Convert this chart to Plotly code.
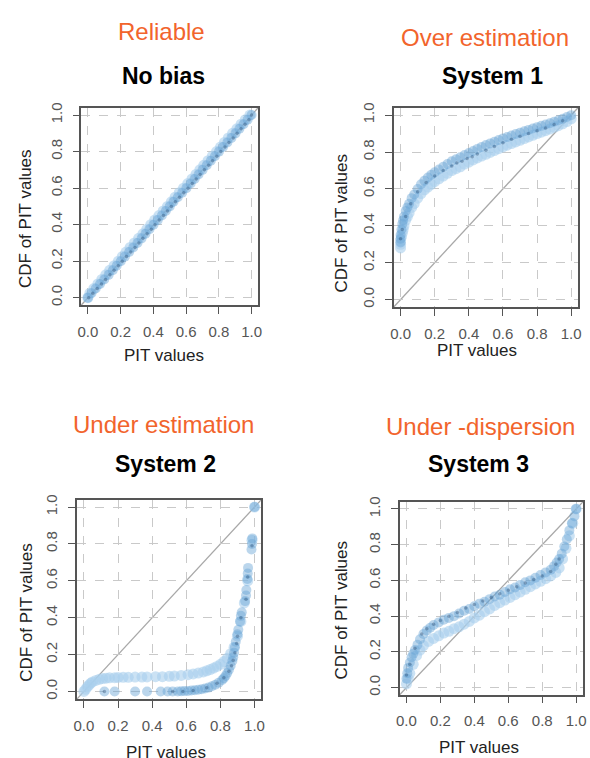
import plotly.graph_objects as go

W, H = 590, 758

# ---------------- data ----------------
TICKS = [0.0, 0.2, 0.4, 0.6, 0.8, 1.0]
TICK_TEXT = ["0.0", "0.2", "0.4", "0.6", "0.8", "1.0"]

CATEGORIES = ["Reliable", "Over estimation", "Under estimation", "Under -dispersion"]
SYSTEMS = ["No bias", "System 1", "System 2", "System 3"]
X_LABEL = "PIT values"
Y_LABEL = "CDF of PIT values"

# Panel 1 : No bias
NB_CDF = [0.0, 0.025, 0.05, 0.075, 0.1, 0.125, 0.15, 0.175, 0.2, 0.225, 0.25, 0.275, 0.3, 0.325,
          0.35, 0.375, 0.4, 0.425, 0.45, 0.475, 0.5, 0.525, 0.55, 0.575, 0.6, 0.625, 0.65, 0.675,
          0.7, 0.725, 0.75, 0.775, 0.8, 0.825, 0.85, 0.875, 0.9, 0.925, 0.95, 0.975, 1.0]
NB_PIT_LIGHT = [0.0, 0.012, 0.036, 0.061, 0.085, 0.109, 0.133, 0.16, 0.186, 0.21, 0.233, 0.258, 0.284,
                0.31, 0.336, 0.36, 0.384, 0.408, 0.434, 0.46, 0.486, 0.51, 0.533, 0.558, 0.584, 0.61,
                0.636, 0.66, 0.684, 0.708, 0.734, 0.76, 0.786, 0.81, 0.834, 0.858, 0.884, 0.91, 0.936,
                0.962, 0.99]
NB_PIT_MID = [0.0, 0.022, 0.048, 0.074, 0.1, 0.127, 0.152, 0.176, 0.201, 0.226, 0.252, 0.277, 0.303,
              0.328, 0.352, 0.376, 0.401, 0.427, 0.452, 0.476, 0.5, 0.523, 0.549, 0.576, 0.602, 0.628,
              0.652, 0.676, 0.701, 0.726, 0.751, 0.776, 0.801, 0.826, 0.852, 0.877, 0.902, 0.926,
              0.951, 0.976, 1.0]
NB_PIT_DARK = [0.005, 0.03, 0.057, 0.083, 0.108, 0.135, 0.16, 0.186, 0.21, 0.236, 0.262, 0.288, 0.312,
               0.336, 0.362, 0.388, 0.41, 0.436, 0.462, 0.486, 0.51, 0.535, 0.56, 0.586, 0.612, 0.638,
               0.662, 0.686, 0.712, 0.738, 0.762, 0.788, 0.812, 0.838, 0.862, 0.888, 0.912, 0.936,
               0.96, 0.984, 1.0]

# Panel 2 : System 1 (over estimation)
S1_PIT_LIGHT = [0.0, 0.0, 0.0, 0.005, 0.01, 0.015, 0.02, 0.03, 0.04, 0.05, 0.065, 0.08, 0.1, 0.12,
                0.14, 0.16, 0.18, 0.2, 0.225, 0.25, 0.275, 0.3, 0.325, 0.35, 0.375, 0.4, 0.425, 0.45,
                0.475, 0.5, 0.525, 0.55, 0.575, 0.6, 0.625, 0.65, 0.675, 0.7, 0.725, 0.75, 0.775, 0.8,
                0.825, 0.85, 0.875, 0.9, 0.925, 0.95, 0.975, 1.0]
S1_CDF_LIGHT = [0.28, 0.3, 0.32, 0.34, 0.36, 0.38, 0.4, 0.43, 0.45, 0.47, 0.5, 0.52, 0.55, 0.575,
                0.595, 0.61, 0.625, 0.64, 0.655, 0.67, 0.685, 0.7, 0.71, 0.72, 0.735, 0.745, 0.757,
                0.768, 0.778, 0.788, 0.798, 0.808, 0.818, 0.828, 0.837, 0.846, 0.855, 0.864, 0.873,
                0.882, 0.891, 0.9, 0.908, 0.916, 0.925, 0.934, 0.943, 0.953, 0.965, 0.98]
S1_PIT_MID = [0.0, 0.0, 0.0, 0.005, 0.01, 0.015, 0.02, 0.03, 0.04, 0.05, 0.065, 0.08, 0.1, 0.12,
              0.14, 0.16, 0.18, 0.2, 0.225, 0.25, 0.275, 0.3, 0.325, 0.35, 0.375, 0.4, 0.425, 0.45,
              0.475, 0.5, 0.525, 0.55, 0.575, 0.6, 0.625, 0.65, 0.675, 0.7, 0.725, 0.75, 0.775, 0.8,
              0.825, 0.85, 0.875, 0.9, 0.925, 0.95, 0.975, 1.0]
S1_CDF_MID = [0.31, 0.33, 0.35, 0.38, 0.41, 0.43, 0.45, 0.48, 0.5, 0.52, 0.55, 0.57, 0.6, 0.625,
              0.645, 0.662, 0.677, 0.69, 0.705, 0.72, 0.735, 0.75, 0.761, 0.772, 0.784, 0.795,
              0.806, 0.817, 0.828, 0.838, 0.847, 0.856, 0.865, 0.874, 0.882, 0.89, 0.898, 0.905,
              0.913, 0.92, 0.928, 0.935, 0.942, 0.949, 0.956, 0.964, 0.972, 0.98, 0.99, 1.0]
S1_PIT_DARK = [0.0, 0.01, 0.03, 0.06, 0.1, 0.15, 0.2, 0.25, 0.3, 0.33, 0.36, 0.39, 0.42, 0.45, 0.5,
               0.55, 0.6, 0.65, 0.7, 0.75, 0.8, 0.85, 0.9, 0.95]
S1_CDF_DARK = [0.33, 0.38, 0.45, 0.52, 0.585, 0.635, 0.67, 0.7, 0.725, 0.74, 0.75, 0.765, 0.775,
               0.79, 0.81, 0.83, 0.85, 0.87, 0.885, 0.9, 0.915, 0.93, 0.95, 0.97]

# Panel 3 : System 2 (under estimation)
S2_PIT_LIGHT = [0.0, 0.01, 0.02, 0.03, 0.04, 0.05, 0.07, 0.09, 0.11, 0.13, 0.15, 0.18, 0.2, 0.23,
                0.26, 0.3, 0.34, 0.37, 0.42, 0.46, 0.5, 0.53, 0.57, 0.61, 0.64, 0.67, 0.7, 0.72,
                0.74, 0.76, 0.78, 0.8, 0.82, 0.84, 0.86, 0.88, 0.9, 0.92, 0.94, 0.96, 0.985, 1.0]
S2_CDF_LIGHT = [0.0, 0.012, 0.025, 0.035, 0.045, 0.052, 0.06, 0.066, 0.07, 0.072, 0.074, 0.075, 0.076,
                0.077, 0.077, 0.078, 0.078, 0.079, 0.08, 0.08, 0.082, 0.084, 0.087, 0.091, 0.095,
                0.1, 0.106, 0.112, 0.119, 0.127, 0.136, 0.147, 0.162, 0.18, 0.205, 0.24, 0.3, 0.38,
                0.48, 0.6, 0.82, 1.0]
S2_PIT_MID = [0.12, 0.18, 0.3, 0.37, 0.45, 0.49, 0.52, 0.55, 0.57, 0.59, 0.61, 0.63, 0.65, 0.67,
              0.69, 0.71, 0.73, 0.75, 0.77, 0.79, 0.81, 0.82, 0.83, 0.84, 0.85, 0.86, 0.87, 0.875,
              0.88, 0.885, 0.89, 0.9, 0.905, 0.915, 0.92, 0.925, 0.945, 0.95, 0.952, 0.958, 0.96,
              0.962, 0.982, 0.985, 0.987, 1.0]
S2_CDF_MID = [0.0, 0.0, 0.0, 0.0, 0.0, 0.0, 0.0, 0.0, 0.001, 0.002, 0.003, 0.005, 0.007, 0.009,
              0.012, 0.016, 0.021, 0.028, 0.037, 0.048, 0.062, 0.072, 0.084, 0.1, 0.118, 0.14,
              0.165, 0.185, 0.21, 0.24, 0.27, 0.31, 0.335, 0.38, 0.41, 0.43, 0.49, 0.52, 0.55,
              0.61, 0.64, 0.67, 0.77, 0.8, 0.83, 1.0]
S2_PIT_DARK = [0.12, 0.52, 0.58, 0.64, 0.72, 0.78, 0.82, 0.85, 0.865, 0.875, 0.885, 0.895, 0.9,
               0.92, 0.95, 0.96, 0.985]
S2_CDF_DARK = [0.0, 0.0, 0.0, 0.005, 0.02, 0.045, 0.075, 0.11, 0.14, 0.17, 0.21, 0.26, 0.3, 0.4,
               0.5, 0.62, 0.79]

# Panel 4 : System 3 (under-dispersion)
S3_PIT_LIGHT = [0.0, 0.01, 0.02, 0.04, 0.06, 0.08, 0.1, 0.13, 0.16, 0.19, 0.22, 0.25, 0.28, 0.31,
                0.34, 0.37, 0.4, 0.43, 0.46, 0.49, 0.52, 0.55, 0.58, 0.61, 0.64, 0.67, 0.7, 0.73,
                0.76, 0.79, 0.82, 0.85, 0.88, 0.9, 0.92, 0.94, 0.96, 0.98, 1.0]
S3_CDF_LIGHT = [0.02, 0.05, 0.08, 0.13, 0.18, 0.21, 0.235, 0.258, 0.275, 0.29, 0.305, 0.315, 0.33,
                0.34, 0.355, 0.37, 0.39, 0.405, 0.425, 0.44, 0.46, 0.475, 0.49, 0.505, 0.52, 0.535,
                0.55, 0.565, 0.58, 0.595, 0.61, 0.625, 0.645, 0.67, 0.72, 0.78, 0.85, 0.92, 1.0]
S3_PIT_MID = [0.0, 0.005, 0.01, 0.02, 0.03, 0.04, 0.05, 0.065, 0.08, 0.1, 0.12, 0.14, 0.16, 0.19,
              0.22, 0.25, 0.28, 0.31, 0.34, 0.37, 0.4, 0.43, 0.46, 0.49, 0.52, 0.55, 0.58, 0.61,
              0.64, 0.67, 0.7, 0.73, 0.76, 0.79, 0.82, 0.85, 0.87, 0.885, 0.9, 0.915, 0.93, 0.945,
              0.96, 0.975, 0.99, 1.0]
S3_CDF_MID = [0.05, 0.08, 0.11, 0.14, 0.17, 0.19, 0.21, 0.24, 0.27, 0.3, 0.32, 0.335, 0.35, 0.365,
              0.38, 0.39, 0.4, 0.415, 0.43, 0.44, 0.455, 0.47, 0.48, 0.495, 0.51, 0.52, 0.535, 0.55,
              0.56, 0.575, 0.59, 0.6, 0.615, 0.63, 0.645, 0.66, 0.68, 0.7, 0.72, 0.75, 0.79, 0.83,
              0.88, 0.92, 0.96, 1.0]
S3_PIT_DARK = [0.0, 0.02, 0.05, 0.09, 0.12, 0.16, 0.2, 0.25, 0.3, 0.35, 0.4, 0.45, 0.5, 0.55, 0.6,
               0.65, 0.7, 0.75, 0.8, 0.85, 0.88, 0.9]
S3_CDF_DARK = [0.07, 0.13, 0.22, 0.3, 0.33, 0.355, 0.375, 0.4, 0.42, 0.445, 0.465, 0.485, 0.505,
               0.525, 0.545, 0.565, 0.585, 0.605, 0.625, 0.65, 0.69, 0.72]

PANELS = [
    [(NB_PIT_LIGHT, NB_CDF), (NB_PIT_MID, NB_CDF), (NB_PIT_DARK, NB_CDF)],
    [(S1_PIT_LIGHT, S1_CDF_LIGHT), (S1_PIT_MID, S1_CDF_MID), (S1_PIT_DARK, S1_CDF_DARK)],
    [(S2_PIT_LIGHT, S2_CDF_LIGHT), (S2_PIT_MID, S2_CDF_MID), (S2_PIT_DARK, S2_CDF_DARK)],
    [(S3_PIT_LIGHT, S3_CDF_LIGHT), (S3_PIT_MID, S3_CDF_MID), (S3_PIT_DARK, S3_CDF_DARK)],
]

# ---------------- styling / layout ----------------
FONT = "Liberation Sans, Arial, sans-serif"
ORANGE = "#f2642c"
SERIES_STYLE = [
    dict(color="rgba(168,206,236,0.6)", size=11),
    dict(color="rgba(105,165,212,0.45)", size=10),
    dict(color="rgba(25,60,100,0.35)", size=3.5),
]

# plot boxes in pixels: (left, right, top, bottom)
BOXES = [(78.4, 257.6, 103.6, 302.4),
         (395.1, 581.9, 103.6, 304.4),
         (74.1, 260.9, 498.6, 699.4),
         (401.1, 586.9, 500.8, 695.2)]
CAT_POS = [(160, 27), (488, 33), (162, 423), (483, 425)]
SYS_POS = [(162, 72), (495, 72), (164, 463), (481, 463)]
XLAB_POS = [(162, 353), (480, 348), (164, 753), (482, 748)]
YLAB_POS = [(22, 215), (342, 220), (22, 612), (342, 610)]

RANGE = [-0.04, 1.04]

fig = go.Figure()
annotations = []
shapes = []

for i, series in enumerate(PANELS):
    ax = "" if i == 0 else str(i + 1)
    for (px, py), st in zip(series, SERIES_STYLE):
        fig.add_trace(go.Scatter(
            x=px, y=py, mode="markers", xaxis="x" + ax, yaxis="y" + ax,
            marker=dict(color=st["color"], size=st["size"], line=dict(width=0)),
            showlegend=False, hoverinfo="x+y", cliponaxis=False))
    l, r, t, b = BOXES[i]
    axis_common = dict(
        range=RANGE, tickvals=TICKS, ticktext=TICK_TEXT,
        showgrid=True, gridcolor="#c9c9c9", griddash="dash", gridwidth=1,
        zeroline=False, showline=True, linecolor="#555555", linewidth=1.5, mirror=True,
        ticks="outside", ticklen=7, tickwidth=1.2, tickcolor="#555555",
        tickfont=dict(family=FONT, size=15, color="#555555"),
        ticklabelstandoff=5, fixedrange=True,
    )
    fig.layout["xaxis" + ax] = dict(axis_common, domain=[l / W, r / W],
                                    anchor="y" + ax)
    fig.layout["yaxis" + ax] = dict(axis_common, domain=[1 - b / H, 1 - t / H],
                                    anchor="x" + ax, tickangle=-90)
    # y = x reference line across the plot region
    shapes.append(dict(type="line", xref="x" + ax + " domain", yref="y" + ax + " domain",
                       x0=0, y0=0, x1=1, y1=1, line=dict(color="#a8a8a8", width=1.3),
                       layer="below"))

    def ann(text, pos, size, color, bold=False, angle=0):
        annotations.append(dict(
            text=f"<b>{text}</b>" if bold else text, x=pos[0] / W, y=1 - pos[1] / H,
            xref="paper", yref="paper", xanchor="center", yanchor="middle",
            showarrow=False, textangle=angle,
            font=dict(family=FONT, size=size, color=color)))

    ann(CATEGORIES[i], CAT_POS[i], 24, ORANGE)
    ann(SYSTEMS[i], SYS_POS[i], 23, "#000000", bold=True)
    ann(X_LABEL, XLAB_POS[i], 17, "#222222")
    ann(Y_LABEL, YLAB_POS[i], 17, "#222222", angle=-90)

fig.update_layout(
    width=W, height=H, margin=dict(l=0, r=0, t=0, b=0),
    paper_bgcolor="white", plot_bgcolor="white",
    annotations=annotations, shapes=shapes, showlegend=False,
)

fig.write_html("out.html", config={"displayModeBar": False},
               post_script="document.body.style.margin='0px';document.body.style.overflow='hidden';")
